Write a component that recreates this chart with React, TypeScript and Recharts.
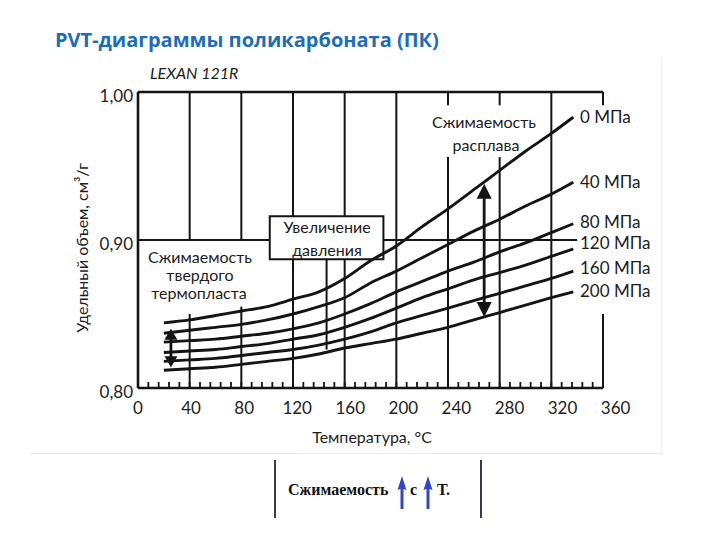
import React from 'react';
import { LineChart, Line, XAxis, YAxis, ReferenceLine, ReferenceArea } from 'recharts';

// temperature, °C
const temps = [20, 40, 60, 80, 100, 120, 140, 160, 180, 200, 220, 240, 260, 280, 300, 320, 337];

// specific volume, cm3/g, one list per pressure
const v0 = [0.844, 0.846, 0.849, 0.852, 0.855, 0.86, 0.865, 0.874, 0.886, 0.896, 0.909, 0.921, 0.934, 0.947, 0.96, 0.972, 0.983];
const v40 = [0.837, 0.839, 0.841, 0.843, 0.846, 0.85, 0.855, 0.861, 0.871, 0.879, 0.888, 0.897, 0.906, 0.914, 0.923, 0.931, 0.939];
const v80 = [0.831, 0.832, 0.833, 0.835, 0.837, 0.84, 0.844, 0.85, 0.857, 0.865, 0.872, 0.879, 0.885, 0.892, 0.898, 0.905, 0.911];
const v120 = [0.824, 0.825, 0.826, 0.828, 0.83, 0.833, 0.836, 0.841, 0.847, 0.854, 0.861, 0.867, 0.873, 0.878, 0.883, 0.889, 0.894];
const v160 = [0.818, 0.819, 0.82, 0.822, 0.824, 0.826, 0.829, 0.833, 0.838, 0.844, 0.849, 0.854, 0.859, 0.864, 0.869, 0.874, 0.879];
const v200 = [0.812, 0.813, 0.814, 0.816, 0.818, 0.82, 0.823, 0.827, 0.83, 0.833, 0.837, 0.841, 0.846, 0.851, 0.856, 0.861, 0.865];

const seriesKeys = ['p0', 'p40', 'p80', 'p120', 'p160', 'p200'];
const seriesValues = [v0, v40, v80, v120, v160, v200];
const pressureLabels = ['0 МПа', '40 МПа', '80 МПа', '120 МПа', '160 МПа', '200 МПа'];

const xTicks = Array.from({ length: 46 }, (_, i) => i * 8);
const yTicks = [0.8, 0.9, 1.0];

const data = temps.map((t, i) => {
  const row: Record<string, number> = { t };
  seriesKeys.forEach((k, j) => (row[k] = seriesValues[j][i]));
  return row;
});

// box "Увеличение давления" in data units
const box = { x1: 102, x2: 190, y1: 0.887, y2: 0.916 };

// broken grid lines of the original drawing: [T, from, to]
const vGrid: [number, number, number][] = [
  [40, 0.9, 1.0], [40, 0.8, 0.85],
  [80, 0.9, 1.0], [80, 0.8, 0.855],
  [120, 0.8, box.y1], [120, box.y2, 1.0],
  [160, 0.8, box.y1], [160, box.y2, 1.0],
  [200, 0.8, 1.0],
  [240, 0.991, 1.0], [240, 0.8, 0.956],
  [280, 0.991, 1.0], [280, 0.8, 0.956],
  [320, 0.8, 1.0],
  [360, 0.991, 1.0], [360, 0.8, 0.85],
];

const INK = '#141414';
const FONT = 'Lato, "Open Sans", sans-serif';

const XTick = (props: any) => {
  const { x, y, payload } = props;
  const v = payload.value as number;
  return (
    <g>
      <line x1={x} x2={x} y1={y - 6} y2={y} stroke={INK} strokeWidth={1.8} />
      {v % 40 === 0 && (
        <text x={x + v * 0.035} y={y + 26} textAnchor="middle" fontSize={17} fill="#222" fontFamily={FONT}>
          {v}
        </text>
      )}
    </g>
  );
};

const YTick = (props: any) => {
  const { x, y, payload } = props;
  return (
    <text x={x} y={y + 10} textAnchor="end" fontSize={17} fill="#222" fontFamily={FONT}>
      {payload.value.toFixed(2).replace('.', ',')}
    </text>
  );
};

const arrowShape = (w: number, h: number) => (p: any) => {
  const { x1, y1, y2 } = p;
  const top = Math.min(y1, y2);
  const bot = Math.max(y1, y2);
  return (
    <g>
      <line x1={x1} x2={x1} y1={top + h - 1} y2={bot - h + 1} stroke={INK} strokeWidth={2.8} />
      <polygon points={`${x1},${top} ${x1 - w / 2},${top + h} ${x1 + w / 2},${top + h}`} fill={INK} />
      <polygon points={`${x1},${bot} ${x1 - w / 2},${bot - h} ${x1 + w / 2},${bot - h}`} fill={INK} />
    </g>
  );
};

const Txt = ({ x, y, size = 16, children, style }: any) => (
  <div
    style={{
      position: 'absolute', left: x, top: y - size * 0.6, fontSize: size, lineHeight: 1.2,
      fontFamily: FONT, color: '#1c1c1c', whiteSpace: 'nowrap', ...style,
    }}
  >
    {children}
  </div>
);

const Center = ({ cx, y, size = 16, children, style }: any) => (
  <div
    style={{
      position: 'absolute', left: cx - 100, width: 200, top: y - size * 0.6, fontSize: size, lineHeight: 1.2,
      textAlign: 'center', fontFamily: FONT, color: '#1c1c1c', whiteSpace: 'nowrap', ...style,
    }}
  >
    {children}
  </div>
);

const BlueArrow = ({ x }: { x: number }) => (
  <svg style={{ position: 'absolute', left: x - 5, top: 476 }} width={10} height={34}>
    <path d="M5,0 L9.5,14 L6.5,13 L6.5,33 L3.5,33 L3.5,13 L0.5,14 Z" fill="#3346c4" />
  </svg>
);

export default function App() {
  const labelY = [117, 182, 222, 243, 268, 291];
  return (
    <div style={{ position: 'absolute', left: 0, top: 0, width: 720, height: 540, background: '#fff', overflow: 'hidden' }}>
      {/* faint edges of the scanned figure */}
      <div style={{ position: 'absolute', left: 30, top: 453, width: 632, height: 1, background: '#ebebeb' }} />
      <div style={{ position: 'absolute', left: 661, top: 58, width: 1, height: 395, background: '#efefef' }} />

      <LineChart width={720} height={540} data={data} margin={{ top: 92, right: 117, left: 78, bottom: 122 }}>
        <XAxis
          dataKey="t" type="number" domain={[0, 360]} ticks={xTicks} interval={0}
          axisLine={{ stroke: INK, strokeWidth: 2.6 }} tickLine={false} tickSize={0} tickMargin={0}
          tick={<XTick />} height={30}
        />
        <YAxis
          type="number" domain={[0.8, 1.0]} ticks={yTicks} interval={0} width={60}
          axisLine={{ stroke: INK, strokeWidth: 2.6 }} tickLine={false} tickSize={0} tickMargin={5}
          tick={<YTick />}
        />
        <ReferenceLine segment={[{ x: 0, y: 1.0 }, { x: 360, y: 1.0 }]} stroke={INK} strokeWidth={2.6} />
        <ReferenceLine segment={[{ x: 0, y: 0.9 }, { x: box.x1, y: 0.9 }]} stroke={INK} strokeWidth={1.8} />
        <ReferenceLine segment={[{ x: box.x2, y: 0.9 }, { x: 340, y: 0.9 }]} stroke={INK} strokeWidth={1.8} />
        {vGrid.map(([t, a, b], i) => (
          <ReferenceLine key={i} segment={[{ x: t, y: a }, { x: t, y: b }]} stroke={INK} strokeWidth={2} />
        ))}
        <ReferenceLine segment={[{ x: 146, y: 0.826 }, { x: 146, y: box.y1 }]} stroke={INK} strokeWidth={2} />
        <ReferenceArea {...box} fill="#fff" fillOpacity={1} stroke={INK} strokeWidth={2} />
        <ReferenceLine segment={[{ x: 25.5, y: 0.814 }, { x: 25.5, y: 0.84 }]} shape={arrowShape(13, 11)} />
        <ReferenceLine segment={[{ x: 268, y: 0.848 }, { x: 268, y: 0.938 }]} shape={arrowShape(15, 15)} />
        {seriesKeys.map((k) => (
          <Line key={k} dataKey={k} type="monotone" stroke={INK} strokeWidth={2.9} dot={false} isAnimationActive={false} />
        ))}
      </LineChart>

      <Txt x={55} y={40} size={20} style={{ fontFamily: '"Open Sans", sans-serif', fontWeight: 700, color: '#1f6db5' }}>
        PVT-диаграммы поликарбоната (ПК)
      </Txt>
      <Txt x={150} y={73} size={16} style={{ fontStyle: 'italic' }}>LEXAN 121R</Txt>

      <Center cx={200} y={257}>Сжимаемость</Center>
      <Center cx={200} y={275}>твердого</Center>
      <Center cx={199} y={293}>термопласта</Center>

      <Center cx={327} y={227}>Увеличение</Center>
      <Center cx={327} y={250}>давления</Center>

      <Center cx={484} y={122}>Сжимаемость</Center>
      <Center cx={486} y={145}>расплава</Center>

      {pressureLabels.map((s, i) => (
        <Txt key={s} x={580} y={labelY[i]} size={17}>{s}</Txt>
      ))}

      <div
        style={{
          position: 'absolute', left: 82 - 120, top: 248 - 10, width: 240, height: 20, textAlign: 'center',
          transform: 'rotate(-90deg)', fontSize: 16, lineHeight: '20px', fontFamily: FONT, color: '#1c1c1c', whiteSpace: 'nowrap',
        }}
      >
        Удельный объем, см³/г
      </div>
      <Center cx={372} y={437}>Температура, °C</Center>

      <div style={{ position: 'absolute', left: 274, top: 460, width: 1.5, height: 58, background: '#3a3a4a' }} />
      <div style={{ position: 'absolute', left: 480, top: 460, width: 1.5, height: 58, background: '#3a3a4a' }} />
      <Txt x={288} y={490} size={16} style={{ fontFamily: '"Liberation Serif", serif', fontWeight: 700, color: '#111' }}>Сжимаемость</Txt>
      <BlueArrow x={402} />
      <Txt x={410} y={490} size={16} style={{ fontFamily: '"Liberation Serif", serif', fontWeight: 700, color: '#111' }}>с</Txt>
      <BlueArrow x={428} />
      <Txt x={437} y={490} size={16} style={{ fontFamily: '"Liberation Serif", serif', fontWeight: 700, color: '#111' }}>Т.</Txt>
    </div>
  );
}
